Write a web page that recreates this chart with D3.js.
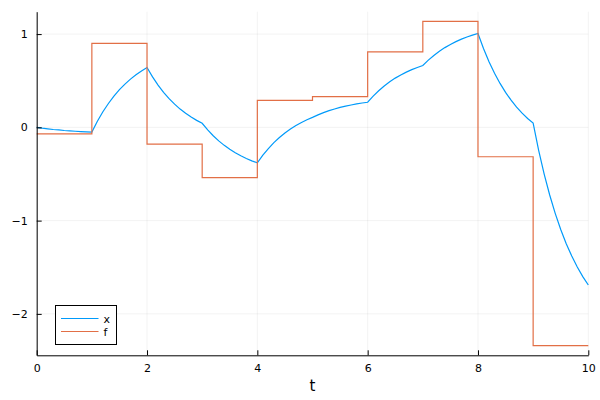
<!DOCTYPE html>
<html>
<head>
<meta charset="utf-8">
<script src="https://cdn.jsdelivr.net/npm/d3@7"></script>
<style>
  html, body { margin: 0; padding: 0; background: #fff; }
  svg { display: block; font-family: "DejaVu Sans", sans-serif; }
</style>
</head>
<body>
<svg id="chart" width="600" height="400"></svg>
<script>
// Time samples for x series (step 0.1)
const tSamples = d3.range(0, 101).map(i => +(i / 10).toFixed(1));
const xValues = [
  0.000, -0.009, -0.016, -0.023, -0.028, -0.034, -0.038, -0.042, -0.045, -0.048, -0.051,
  0.065, 0.167, 0.256, 0.335, 0.404, 0.464, 0.517, 0.564, 0.605, 0.641,
  0.541, 0.453, 0.376, 0.308, 0.249, 0.196, 0.151, 0.110, 0.075, 0.044,
  -0.027, -0.090, -0.145, -0.193, -0.235, -0.272, -0.305, -0.334, -0.359, -0.381,
  -0.299, -0.227, -0.164, -0.109, -0.060, -0.018, 0.020, 0.053, 0.082, 0.107,
  0.134, 0.158, 0.179, 0.197, 0.214, 0.228, 0.240, 0.251, 0.261, 0.269,
  0.335, 0.393, 0.444, 0.488, 0.528, 0.562, 0.592, 0.619, 0.642, 0.663,
  0.721, 0.771, 0.816, 0.855, 0.889, 0.919, 0.946, 0.969, 0.989, 1.007,
  0.846, 0.704, 0.580, 0.471, 0.375, 0.291, 0.217, 0.152, 0.095, 0.045,
  -0.246, -0.501, -0.725, -0.922, -1.095, -1.247, -1.380, -1.497, -1.600, -1.690
];
// Step function f (value held from each integer time)
const fTimes = [0, 1, 2, 3, 4, 5, 6, 7, 8, 9, 10];
const fValues = [-0.07, 0.90, -0.18, -0.54, 0.29, 0.33, 0.81, 1.136, -0.315, -2.34, -2.34];

const xTicks = [0, 2, 4, 6, 8, 10];
const yTicks = [-2, -1, 0, 1];
const seriesNames = ["x", "f"];
const seriesColors = ["#009AFA", "#E26F46"];

const svg = d3.select("#chart");
const L = 36.7, R = 588.3, T = 11.7, B = 355.3;

const xScale = d3.scaleLinear().domain([0, 10]).range([L, R]);
const yScale = d3.scaleLinear().domain([-2.444, 1.240]).range([B, T]);

// Grid
const grid = svg.append("g");
grid.selectAll(".vg").data(xTicks).enter().append("line")
  .attr("x1", d => xScale(d)).attr("x2", d => xScale(d))
  .attr("y1", T).attr("y2", B)
  .attr("stroke", "#000").attr("stroke-opacity", 0.1).attr("stroke-width", 0.5);
grid.selectAll(".hg").data(yTicks).enter().append("line")
  .attr("x1", L).attr("x2", R)
  .attr("y1", d => yScale(d)).attr("y2", d => yScale(d))
  .attr("stroke", "#000").attr("stroke-opacity", 0.1).attr("stroke-width", 0.5);

// Series
const lineX = d3.line().x((d, i) => xScale(tSamples[i])).y(d => yScale(d));
svg.append("path").datum(xValues)
  .attr("d", lineX).attr("fill", "none")
  .attr("stroke", seriesColors[0]).attr("stroke-width", 1.2);

const lineF = d3.line().curve(d3.curveStepAfter)
  .x((d, i) => xScale(fTimes[i])).y(d => yScale(d));
svg.append("path").datum(fValues)
  .attr("d", lineF).attr("fill", "none")
  .attr("stroke", seriesColors[1]).attr("stroke-width", 1.2);

// Axes
const xAxis = d3.axisBottom(xScale).tickValues(xTicks).tickSizeInner(-5).tickSizeOuter(0).tickPadding(9)
  .tickFormat(d3.format("d"));
const gx = svg.append("g").attr("transform", `translate(0,${B})`).call(xAxis);
const yAxis = d3.axisLeft(yScale).tickValues(yTicks).tickSizeInner(-5).tickSizeOuter(0).tickPadding(9)
  .tickFormat(d => d < 0 ? "\u2212" + Math.abs(d) : String(d));
const gy = svg.append("g").attr("transform", `translate(${L},0)`).call(yAxis);
[gx, gy].forEach(g => {
  g.select(".domain").attr("stroke", "#000").attr("stroke-width", 1);
  g.selectAll(".tick line").attr("stroke", "#000").attr("stroke-width", 1);
  g.selectAll(".tick text").attr("fill", "#000").style("font-size", "11px")
    .style("font-family", "DejaVu Sans, sans-serif");
});

// Axis label
svg.append("text").attr("x", (L + R) / 2).attr("y", 391)
  .attr("text-anchor", "middle").style("font-size", "15px").attr("fill", "#000").text("t");

// Legend
const lg = svg.append("g");
lg.append("rect").attr("x", 55.5).attr("y", 305.5).attr("width", 61).attr("height", 39)
  .attr("fill", "#fff").attr("stroke", "#000").attr("stroke-width", 1);
seriesNames.forEach((name, i) => {
  const yy = 318.5 + i * 13;
  lg.append("line").attr("x1", 61).attr("x2", 98.5).attr("y1", yy).attr("y2", yy)
    .attr("stroke", seriesColors[i]).attr("stroke-width", 1.2);
  lg.append("text").attr("x", 103.5).attr("y", yy + 4).style("font-size", "11px")
    .attr("fill", "#000").text(name);
});
</script>
</body>
</html>
